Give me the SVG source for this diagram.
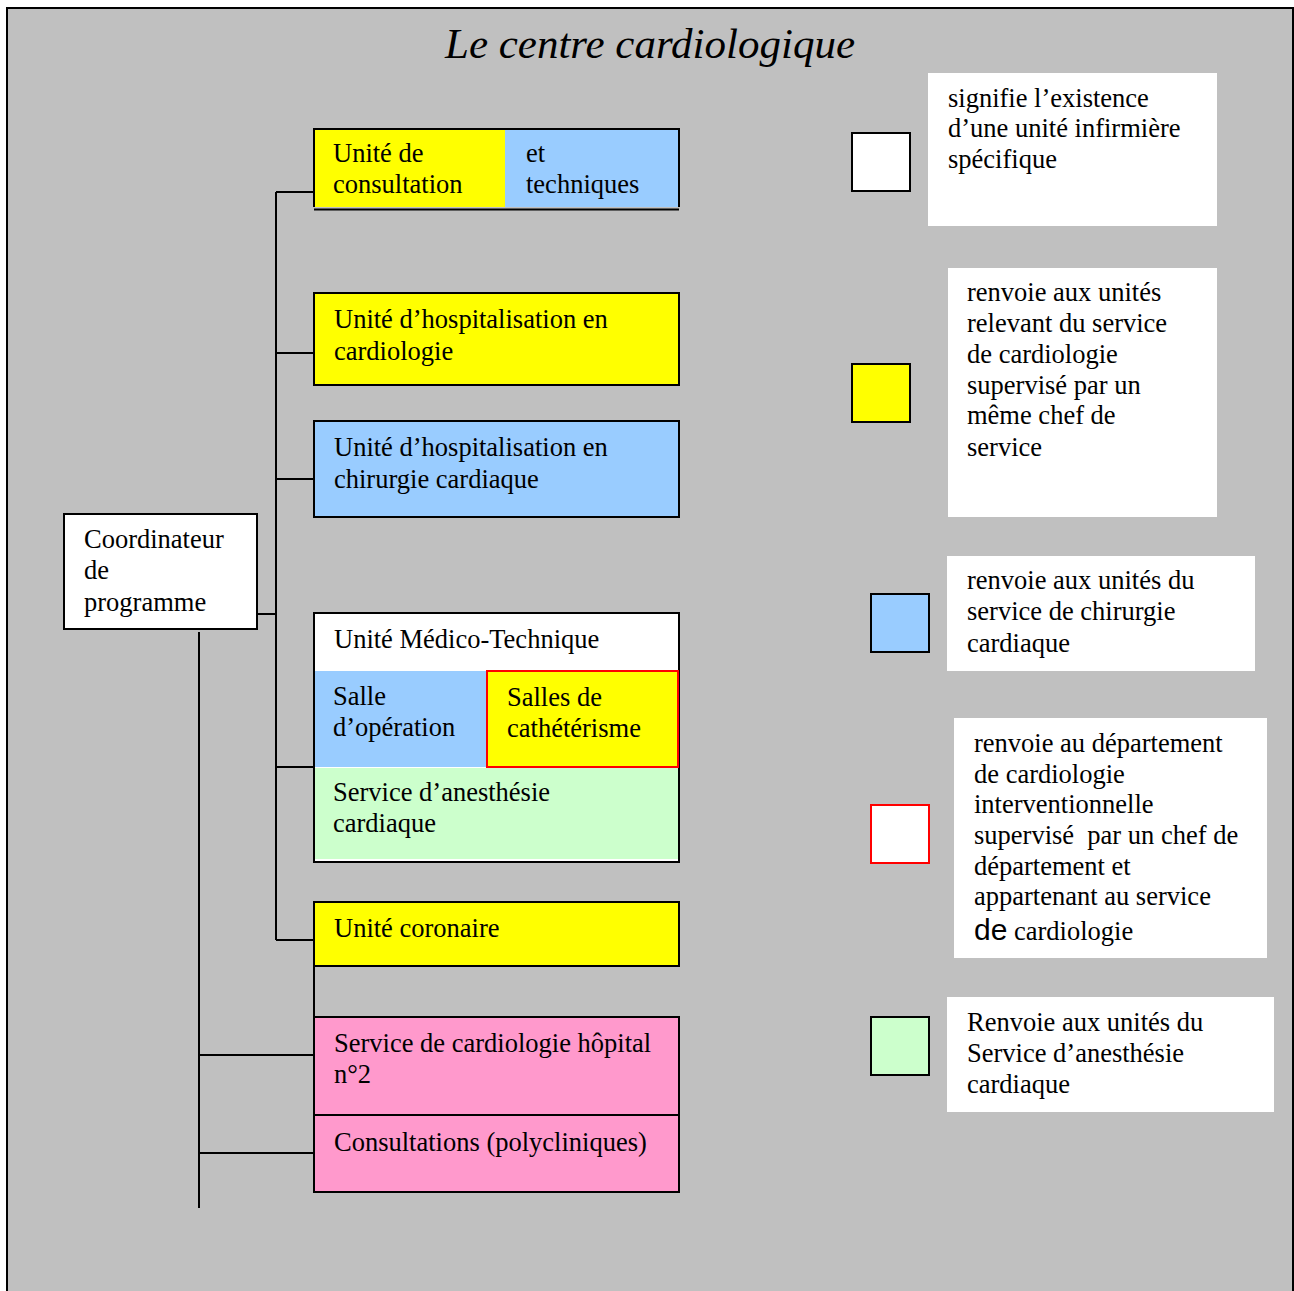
<svg xmlns="http://www.w3.org/2000/svg" width="1294" height="1291" viewBox="0 0 1294 1291">
<style>
text{font-family:"Liberation Serif","Times New Roman",serif;font-size:26.5px;fill:#000}
.t{font-size:43px;font-style:italic}
.box{stroke:#000;stroke-width:2}
.ln{stroke:#000;stroke-width:2;fill:none}
.leg{fill:#fff;stroke:none}
.sq{stroke:#000;stroke-width:2}
</style>
<rect x="0" y="0" width="1294" height="1291" fill="#fff"/>
<path d="M7 1291 V8 H1293 V1291" fill="#C0C0C0" stroke="#000" stroke-width="2"/>
<text class="t" x="650" y="58" text-anchor="middle">Le centre cardiologique</text>

<g id="connectors">
<path class="ln" d="M276 192 V940"/>
<path class="ln" d="M276 192 H314 M276 353 H314 M276 479 H314 M276 767 H314 M276 940 H314 M257 614 H276"/>
<path class="ln" d="M199 632 V1208 M199 1055 H314 M199 1153 H314"/>
<path class="ln" d="M314 966 V1017"/>
</g>

<g id="consultation">
<rect x="314" y="129" width="191" height="78" fill="#FFFF00"/>
<rect x="505" y="129" width="174" height="78" fill="#99CCFF"/>
<path class="ln" d="M314 207 V129 H679 V207"/>
<path class="ln" d="M314 209.5 H679" stroke-width="2.5"/>
<text x="333" y="162">Unité de</text>
<text x="333" y="193">consultation</text>
<text x="526" y="162">et</text>
<text x="526" y="193">techniques</text>
</g>

<g id="hosp-cardio">
<rect class="box" x="314" y="293" width="365" height="92" fill="#FFFF00"/>
<text x="334" y="328">Unité d’hospitalisation en</text>
<text x="334" y="360">cardiologie</text>
</g>

<g id="hosp-chir">
<rect class="box" x="314" y="421" width="365" height="96" fill="#99CCFF"/>
<text x="334" y="456">Unité d’hospitalisation en</text>
<text x="334" y="488">chirurgie cardiaque</text>
</g>

<g id="coordinateur">
<rect class="box" x="64" y="514" width="193" height="115" fill="#fff"/>
<text x="84" y="548">Coordinateur</text>
<text x="84" y="579">de</text>
<text x="84" y="611">programme</text>
</g>

<g id="medico-technique">
<rect x="314" y="613" width="365" height="249" fill="#fff" stroke="#000" stroke-width="2"/>
<rect x="315" y="671" width="172" height="96" fill="#99CCFF"/>
<rect x="487" y="671" width="191" height="96" fill="#FFFF00" stroke="#FF0000" stroke-width="2"/>
<rect x="315" y="768" width="363" height="91" fill="#CCFFCC"/>
<text x="334" y="648">Unité Médico-Technique</text>
<text x="333" y="705">Salle</text>
<text x="333" y="736">d’opération</text>
<text x="507" y="706">Salles de</text>
<text x="507" y="737">cathétérisme</text>
<text x="333" y="801">Service d’anesthésie</text>
<text x="333" y="832">cardiaque</text>
</g>

<g id="coronaire">
<rect class="box" x="314" y="902" width="365" height="64" fill="#FFFF00"/>
<text x="334" y="937">Unité coronaire</text>
</g>

<g id="hopital2">
<rect class="box" x="314" y="1017" width="365" height="98" fill="#FF99CC"/>
<text x="334" y="1052">Service de cardiologie hôpital</text>
<text x="334" y="1083">n°2</text>
</g>

<g id="polycliniques">
<rect class="box" x="314" y="1115" width="365" height="77" fill="#FF99CC"/>
<text x="334" y="1151">Consultations (polycliniques)</text>
</g>

<g id="legend-white">
<rect class="sq" x="852" y="133" width="58" height="58" fill="#fff"/>
<rect class="leg" x="928" y="73" width="289" height="153"/>
<text x="948" y="107">signifie l’existence</text>
<text x="948" y="137">d’une unité infirmière</text>
<text x="948" y="168">spécifique</text>
</g>

<g id="legend-yellow">
<rect class="sq" x="852" y="364" width="58" height="58" fill="#FFFF00"/>
<rect class="leg" x="948" y="268" width="269" height="249"/>
<text x="967" y="301">renvoie aux unités</text>
<text x="967" y="332">relevant du service</text>
<text x="967" y="363">de cardiologie</text>
<text x="967" y="394">supervisé par un</text>
<text x="967" y="424">même chef de</text>
<text x="967" y="456">service</text>
</g>

<g id="legend-blue">
<rect class="sq" x="871" y="594" width="58" height="58" fill="#99CCFF"/>
<rect class="leg" x="947" y="556" width="308" height="115"/>
<text x="967" y="589">renvoie aux unités du</text>
<text x="967" y="620">service de chirurgie</text>
<text x="967" y="652">cardiaque</text>
</g>

<g id="legend-red">
<rect x="871" y="805" width="58" height="58" fill="#fff" stroke="#FF0000" stroke-width="2"/>
<rect class="leg" x="954" y="718" width="313" height="240"/>
<text x="974" y="752">renvoie au département</text>
<text x="974" y="783">de cardiologie</text>
<text x="974" y="813">interventionnelle</text>
<text x="974" y="844" xml:space="preserve">supervisé  par un chef de</text>
<text x="974" y="875">département et</text>
<text x="974" y="905">appartenant au service</text>
<text x="974" y="940"><tspan style="font-family:'Liberation Sans',Arial,sans-serif;font-size:30px">de</tspan> cardiologie</text>
</g>

<g id="legend-green">
<rect class="sq" x="871" y="1017" width="58" height="58" fill="#CCFFCC"/>
<rect class="leg" x="947" y="997" width="327" height="115"/>
<text x="967" y="1031">Renvoie aux unités du</text>
<text x="967" y="1062">Service d’anesthésie</text>
<text x="967" y="1093">cardiaque</text>
</g>
</svg>
